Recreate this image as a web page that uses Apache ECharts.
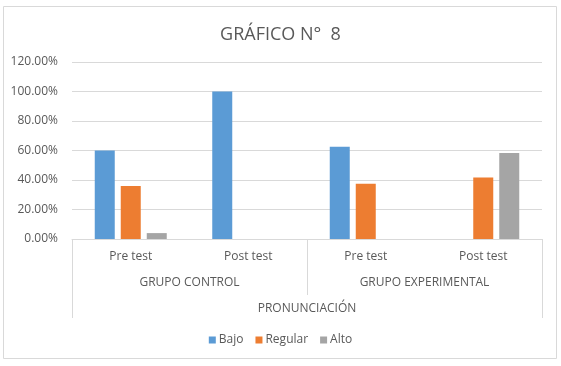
<!DOCTYPE html>
<html>
<head>
<meta charset="utf-8">
<script src="https://cdn.jsdelivr.net/npm/echarts@6/dist/echarts.min.js"></script>
<style>
  html, body { margin: 0; padding: 0; background: #fff; }
  #chart { width: 561px; height: 366px; }
</style>
</head>
<body>
<div id="chart"></div>
<script>
const tests = ["Pre test", "Post test", "Pre test", "Post test"];
const groups = ["GRUPO CONTROL", "GRUPO EXPERIMENTAL"];
const topLevel = ["PRONUNCIACIÓN"];
const bajo = [60, 100, 62.5, 0];
const regular = [36, 0, 37.5, 41.67];
const alto = [4, 0, 0, 58.33];

const textColor = "#595959";
const lineColor = "#d9d9d9";
const font = "'Open Sans', sans-serif";

const chart = echarts.init(document.getElementById("chart"));

function barSeries(name, data, color) {
  return {
    name: name,
    type: "bar",
    data: data,
    barWidth: 20,
    barGap: "30%",
    itemStyle: { color: color },
  };
}

chart.setOption({
  animation: false,
  textStyle: { fontFamily: font },
  title: {
    text: "GRÁFICO N°  8",
    left: "center",
    top: 21,
    textStyle: { fontSize: 18, fontWeight: "normal", color: textColor, fontFamily: font },
  },
  legend: {
    bottom: 15,
    left: "center",
    itemWidth: 7,
    itemHeight: 7,
    itemGap: 12,
    icon: "rect",
    textStyle: { fontSize: 12, color: textColor, padding: [0, 0, 0, -2] },
    data: ["Bajo", "Regular", "Alto"],
  },
  graphic: [
    {
      type: "rect",
      shape: { x: 3.5, y: 6.5, width: 553, height: 352 },
      style: { fill: "none", stroke: lineColor, lineWidth: 1 },
      silent: true,
    },
  ],
  grid: { left: 72, right: 19, top: 62, bottom: 127 },
  xAxis: [
    {
      type: "category",
      data: tests,
      axisLine: { lineStyle: { color: lineColor } },
      axisTick: { show: false },
      axisLabel: { color: textColor, fontSize: 12, margin: 12, interval: 0 },
    },
    {
      type: "category",
      data: groups,
      position: "bottom",
      axisLine: { show: false },
      axisTick: { show: true, length: 56, lineStyle: { color: lineColor } },
      axisLabel: { color: textColor, fontSize: 12, margin: 38, interval: 0 },
    },
    {
      type: "category",
      data: topLevel,
      position: "bottom",
      axisLine: { show: false },
      axisTick: { show: true, length: 79, lineStyle: { color: lineColor } },
      axisLabel: { color: textColor, fontSize: 12, margin: 64 },
    },
  ],
  yAxis: {
    type: "value",
    min: 0,
    max: 120,
    interval: 20,
    axisLine: { show: false },
    axisTick: { show: false },
    axisLabel: {
      color: textColor,
      fontSize: 12,
      margin: 14,
      formatter: (v) => v.toFixed(2) + "%",
    },
    splitLine: { lineStyle: { color: lineColor } },
  },
  series: [
    barSeries("Bajo", bajo, "#5b9bd5"),
    barSeries("Regular", regular, "#ed7d31"),
    barSeries("Alto", alto, "#a5a5a5"),
  ],
});
</script>
</body>
</html>
